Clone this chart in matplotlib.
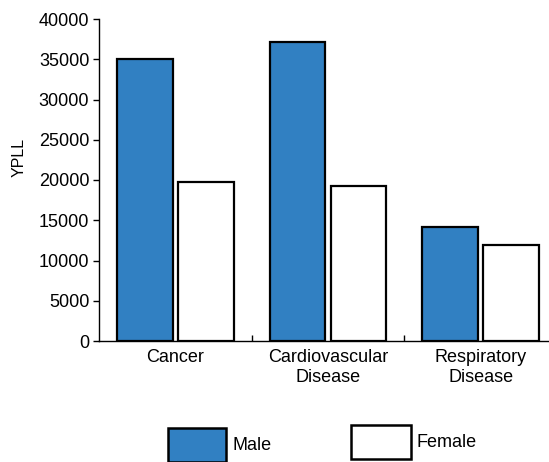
import matplotlib
matplotlib.use("Agg")
import matplotlib.pyplot as plt
from matplotlib.patches import Patch
import numpy as np

categories = ["Cancer", "Cardiovascular\nDisease", "Respiratory\nDisease"]
male = [35000, 37200, 14200]
female = [19700, 19200, 11900]
yticks = [0, 5000, 10000, 15000, 20000, 25000, 30000, 35000, 40000]

plt.rcParams['font.family'] = ['Liberation Sans', 'DejaVu Sans']

fig = plt.figure(figsize=(5.49, 4.62), dpi=100)
ax = fig.add_axes([99/549, 121/462, 458/549, 322/462])

x = np.arange(len(categories))
blue = '#3180c2'
w = 0.365
ax.bar(x - 0.2, male, width=w, color=blue, edgecolor='black', linewidth=1.6, label='Male')
ax.bar(x + 0.2, female, width=w, color='white', edgecolor='black', linewidth=1.6, label='Female')

ax.set_xlim(-0.5, 2.5)
ax.set_ylim(0, 40000)
ax.set_yticks(yticks)
ax.set_yticklabels([str(v) for v in yticks], fontsize=13)
ax.tick_params(axis='y', direction='out', length=4, width=1, pad=3)

ax.set_xticks(x)
ax.set_xticklabels(categories, fontsize=13)
ax.tick_params(axis='x', which='major', length=0, pad=6)
ax.set_xticks([0.5, 1.5], minor=True)
ax.tick_params(axis='x', which='minor', direction='in', length=4, width=1)

for s in ['top', 'right']:
    ax.spines[s].set_visible(False)
for s in ['left', 'bottom']:
    ax.spines[s].set_linewidth(1)

ax.set_ylabel('YPLL', fontsize=11.5)
ax.yaxis.set_label_coords(-0.157, 0.57)

h_m = Patch(facecolor=blue, edgecolor='black', linewidth=1.8)
h_f = Patch(facecolor='white', edgecolor='black', linewidth=1.8)
leg1 = fig.legend([h_m], ['Male'], loc='center', bbox_to_anchor=(220/549, 1 - 445/462),
                  frameon=False, fontsize=13, handlelength=3.2, handleheight=2.53,
                  handletextpad=0.4, borderaxespad=0, borderpad=0)
leg2 = fig.legend([h_f], ['Female'], loc='center', bbox_to_anchor=(414/549, 1 - 442/462),
                  frameon=False, fontsize=13, handlelength=3.33, handleheight=2.6,
                  handletextpad=0.3, borderaxespad=0, borderpad=0)

fig.savefig('out.png', dpi=100)
